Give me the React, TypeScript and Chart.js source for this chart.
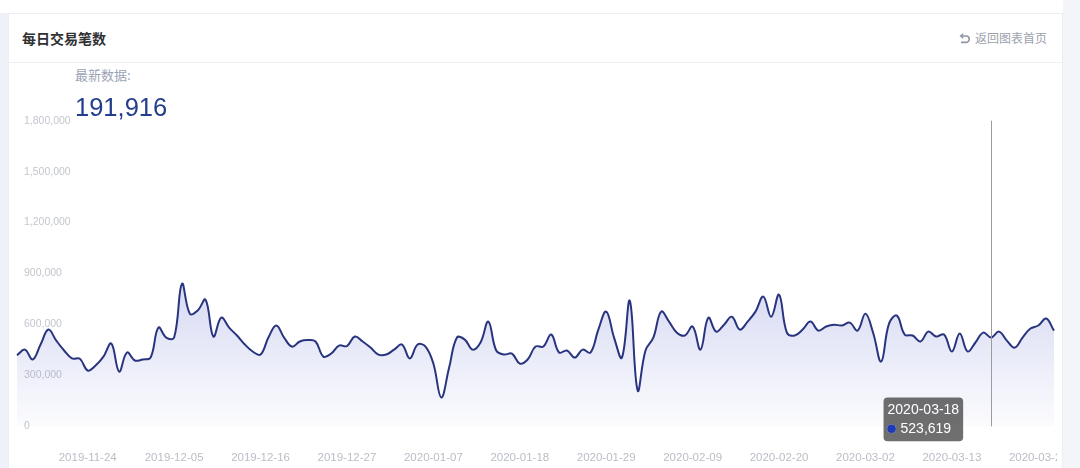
import React, { useEffect, useRef } from 'react';
import { Chart, registerables, Tooltip } from 'chart.js';

Chart.register(...registerables);

const DATES: string[] = [
  '2019-11-15', '2019-11-16', '2019-11-17', '2019-11-18', '2019-11-19', '2019-11-20', '2019-11-21', '2019-11-22', '2019-11-23', '2019-11-24',
  '2019-11-25', '2019-11-26', '2019-11-27', '2019-11-28', '2019-11-29', '2019-11-30',
  '2019-12-01', '2019-12-02', '2019-12-03', '2019-12-04', '2019-12-05', '2019-12-06', '2019-12-07', '2019-12-08', '2019-12-09', '2019-12-10',
  '2019-12-11', '2019-12-12', '2019-12-13', '2019-12-14', '2019-12-15', '2019-12-16', '2019-12-17', '2019-12-18', '2019-12-19', '2019-12-20',
  '2019-12-21', '2019-12-22', '2019-12-23', '2019-12-24', '2019-12-25', '2019-12-26', '2019-12-27', '2019-12-28', '2019-12-29', '2019-12-30', '2019-12-31',
  '2020-01-01', '2020-01-02', '2020-01-03', '2020-01-04', '2020-01-05', '2020-01-06', '2020-01-07', '2020-01-08', '2020-01-09', '2020-01-10',
  '2020-01-11', '2020-01-12', '2020-01-13', '2020-01-14', '2020-01-15', '2020-01-16', '2020-01-17', '2020-01-18', '2020-01-19', '2020-01-20',
  '2020-01-21', '2020-01-22', '2020-01-23', '2020-01-24', '2020-01-25', '2020-01-26', '2020-01-27', '2020-01-28', '2020-01-29', '2020-01-30', '2020-01-31',
  '2020-02-01', '2020-02-02', '2020-02-03', '2020-02-04', '2020-02-05', '2020-02-06', '2020-02-07', '2020-02-08', '2020-02-09', '2020-02-10',
  '2020-02-11', '2020-02-12', '2020-02-13', '2020-02-14', '2020-02-15', '2020-02-16', '2020-02-17', '2020-02-18', '2020-02-19', '2020-02-20',
  '2020-02-21', '2020-02-22', '2020-02-23', '2020-02-24', '2020-02-25', '2020-02-26', '2020-02-27', '2020-02-28', '2020-02-29',
  '2020-03-01', '2020-03-02', '2020-03-03', '2020-03-04', '2020-03-05', '2020-03-06', '2020-03-07', '2020-03-08', '2020-03-09', '2020-03-10',
  '2020-03-11', '2020-03-12', '2020-03-13', '2020-03-14', '2020-03-15', '2020-03-16', '2020-03-17', '2020-03-18', '2020-03-19', '2020-03-20',
  '2020-03-21', '2020-03-22', '2020-03-23', '2020-03-24', '2020-03-25', '2020-03-26',
];

const TX_COUNTS: number[] = [
  419000, 452000, 394000, 482000, 570000, 505000, 447000, 400000, 398000, 329000,
  358000, 411000, 488000, 323000, 435000, 388000, 394000, 405000, 582000, 523000,
  523000, 840000, 664000, 682000, 746000, 529000, 640000, 582000, 535000, 482000,
  441000, 423000, 523000, 594000, 523000, 470000, 500000, 508000, 500000, 411000,
  429000, 476000, 473000, 529000, 500000, 464000, 423000, 423000, 452000, 482000,
  400000, 482000, 470000, 370000, 170000, 345000, 523000, 511000, 452000, 494000,
  617000, 447000, 423000, 429000, 370000, 394000, 470000, 470000, 541000, 435000,
  447000, 405000, 452000, 435000, 570000, 676000, 523000, 405000, 740000, 212000,
  447000, 523000, 676000, 617000, 552000, 535000, 588000, 452000, 640000, 558000,
  599000, 646000, 570000, 617000, 676000, 764000, 646000, 776000, 552000, 535000,
  570000, 617000, 564000, 588000, 599000, 594000, 611000, 564000, 664000, 547000,
  382000, 605000, 652000, 541000, 535000, 500000, 558000, 529000, 541000, 441000,
  547000, 441000, 494000, 552000, 523619, 558000, 505000, 464000, 523000, 576000,
  594000, 635000, 564000,
];

const X_TICK_LABELS: string[] = [
  '2019-11-24', '2019-12-05', '2019-12-16', '2019-12-27', '2020-01-07', '2020-01-18',
  '2020-01-29', '2020-02-09', '2020-02-20', '2020-03-02', '2020-03-13', '2020-03-24',
];

const Y_MIN = 0;
const Y_MAX = 1800000;
const Y_STEP = 300000;
const HIGHLIGHT_DATE = '2020-03-18';
const LATEST_VALUE = 191916;

const FONT = '"Liberation Sans", Arial, Helvetica, sans-serif';
const CJK = '"Noto Sans CJK SC", "Noto Sans", sans-serif';

export default function App() {
  const ref = useRef<HTMLCanvasElement>(null);

  useEffect(() => {
    document.body.style.margin = '0';
    const canvas = ref.current;
    if (!canvas) return;

    (Tooltip.positioners as any).besideLine = function (items: any[]) {
      if (!items.length) return false;
      const el = items[0].element;
      return { x: el.x - 28, y: this.chart.chartArea.bottom - 7 };
    };

    const crosshair = {
      id: 'crosshair',
      afterDatasetsDraw(chart: any) {
        const act = chart.tooltip && chart.tooltip.getActiveElements ? chart.tooltip.getActiveElements() : [];
        if (!act || !act.length) return;
        const x = Math.round(act[0].element.x) + 0.5;
        const { ctx, chartArea } = chart;
        ctx.save();
        ctx.strokeStyle = '#9c9c9c';
        ctx.lineWidth = 1;
        ctx.beginPath();
        ctx.moveTo(x, chartArea.top);
        ctx.lineTo(x, chartArea.bottom);
        ctx.stroke();
        ctx.restore();
      },
    };

    const chart = new Chart(canvas, {
      type: 'line',
      data: {
        labels: DATES,
        datasets: [
          {
            data: TX_COUNTS,
            borderColor: '#29347f',
            borderWidth: 2,
            pointRadius: 0,
            pointHoverRadius: 0,
            tension: 0.4,
            fill: 'origin',
            backgroundColor: (c: any) => {
              const { chart: ch } = c;
              const { ctx, chartArea, scales } = ch;
              if (!chartArea || !scales.y) return 'rgba(0,0,0,0)';
              const top = scales.y.getPixelForValue(Math.max(...TX_COUNTS));
              const g = ctx.createLinearGradient(0, top, 0, chartArea.bottom);
              g.addColorStop(0, 'rgba(72,88,200,0.22)');
              g.addColorStop(1, 'rgba(72,88,200,0.02)');
              return g;
            },
          },
        ],
      },
      options: {
        responsive: false,
        animation: false,
        events: [],
        layout: { padding: { left: 0, right: 0, top: 25.7, bottom: 0.8 } },
        scales: {
          x: {
            type: 'category',
            offset: false,
            grid: { display: false, drawTicks: false },
            border: { display: false },
            ticks: {
              autoSkip: false,
              maxRotation: 0,
              minRotation: 0,
              padding: 25,
              color: '#b9bdc5',
              font: { family: FONT, size: 11.5 },
              callback: (_v: any, idx: number) => (X_TICK_LABELS.includes(DATES[idx]) ? DATES[idx] : ''),
            },
          },
          y: {
            min: Y_MIN,
            max: Y_MAX,
            grid: { display: false, drawTicks: false },
            border: { display: false },
            ticks: {
              stepSize: Y_STEP,
              mirror: true,
              padding: 7,
              color: '#c3c6cd',
              font: { family: FONT, size: 10.5 },
              callback: (v: any) => Number(v).toLocaleString('en-US'),
            },
          },
        },
        plugins: {
          legend: { display: false },
          tooltip: {
            enabled: true,
            position: 'besideLine' as any,
            xAlign: 'right',
            yAlign: 'center',
            caretSize: 0,
            caretPadding: 0,
            backgroundColor: 'rgba(50,50,50,0.7)',
            cornerRadius: 4,
            padding: 4,
            titleMarginBottom: 2,
            titleColor: '#ffffff',
            bodyColor: '#ffffff',
            titleFont: { family: FONT, size: 14, weight: 'normal' },
            bodyFont: { family: FONT, size: 14 },
            displayColors: true,
            usePointStyle: true,
            boxWidth: 8,
            boxHeight: 8,
            boxPadding: 3,
            callbacks: {
              label: (it: any) => Number(it.raw).toLocaleString('en-US'),
              labelColor: () => ({ borderColor: '#1f3bb3', backgroundColor: '#1f3bb3' }),
              labelPointStyle: () => ({ pointStyle: 'circle', rotation: 0 }),
            },
          },
        },
      },
      plugins: [crosshair],
    } as any);

    const idx = DATES.indexOf(HIGHLIGHT_DATE);
    chart.tooltip?.setActiveElements([{ datasetIndex: 0, index: idx }], { x: 0, y: 0 });
    chart.update();

    return () => chart.destroy();
  }, []);

  return (
    <div style={{ position: 'relative', width: 1080, height: 468, overflow: 'hidden', background: '#ffffff' }}>
      <div style={{ position: 'absolute', left: 0, top: 13, width: 8, height: 460, background: '#eef1f7' }} />
      <div style={{ position: 'absolute', left: 1063, top: 0, width: 17, height: 468, background: '#f4f5f9' }} />
      <div
        style={{
          position: 'absolute', left: 8, top: 13, width: 1055, height: 470, background: '#ffffff',
          border: '1px solid #eceef3', boxSizing: 'border-box',
        }}
      />
      <div style={{ position: 'absolute', left: 9, top: 62, width: 1053, height: 1, background: '#eef0f4' }} />
      <div
        style={{
          position: 'absolute', left: 22, top: 29, lineHeight: '18px', fontSize: 14, fontWeight: 700,
          color: '#303133', fontFamily: CJK,
        }}
      >
        每日交易笔数
      </div>
      <svg style={{ position: 'absolute', left: 959, top: 33 }} width="12" height="11" viewBox="0 0 12 11">
        <path d="M2 3 H7 A3.2 3.2 0 0 1 7 9.4 H2" fill="none" stroke="#8f96a3" strokeWidth="1.6" />
        <path d="M4.2 0.8 L1.6 3 L4.2 5.2" fill="none" stroke="#8f96a3" strokeWidth="1.4" />
      </svg>
      <div
        style={{
          position: 'absolute', left: 975, top: 30, lineHeight: '16px', fontSize: 12, color: '#9ba1ac',
          fontFamily: CJK,
        }}
      >
        返回图表首页
      </div>
      <div style={{ position: 'absolute', left: 0, top: 0, width: 1057, height: 468, overflow: 'hidden' }}>
        <canvas
          ref={ref}
          width={1087}
          height={396}
          style={{ position: 'absolute', left: -8, top: 95, width: 1087, height: 396 }}
        />
      </div>
      <div
        style={{
          position: 'absolute', left: 75, top: 67, lineHeight: '16px', fontSize: 13, color: '#9aa3b6',
          fontFamily: CJK,
        }}
      >
        最新数据:
      </div>
      <div
        style={{
          position: 'absolute', left: 75, top: 92, lineHeight: '30px', fontSize: 25.5, color: '#213f8d',
          fontFamily: FONT,
        }}
      >
        {LATEST_VALUE.toLocaleString('en-US')}
      </div>
    </div>
  );
}
